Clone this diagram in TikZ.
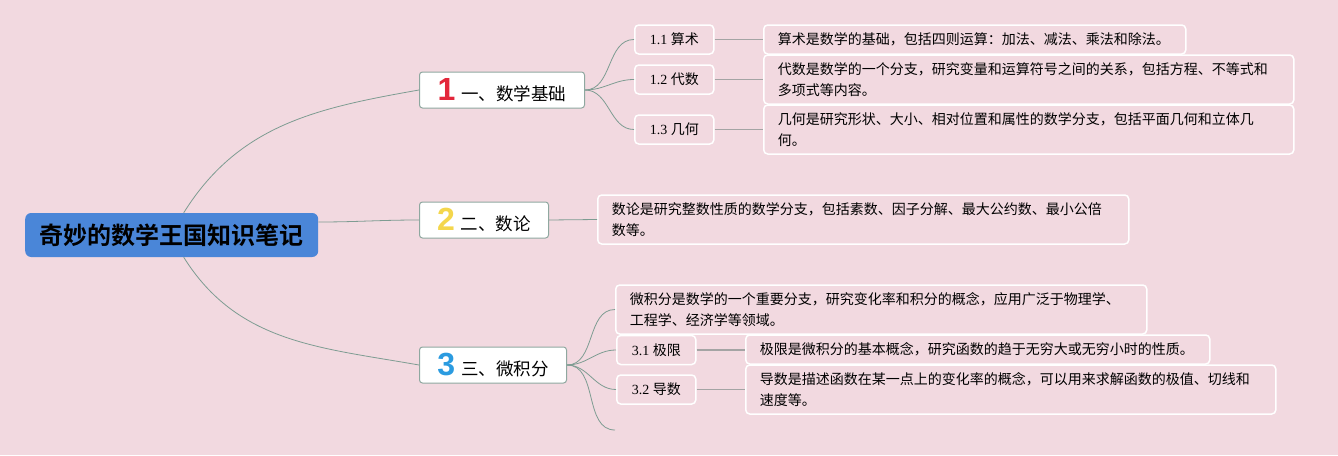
\documentclass[tikz,border=0pt]{standalone}
\usepackage{fontspec}
\setmainfont{Liberation Serif}
\newfontfamily\cjk{Noto Sans CJK SC}[BoldFont={Noto Sans CJK SC Bold}]
\newfontfamily\numfont{Liberation Sans}
\definecolor{bgpink}{HTML}{F2D9E0}
\definecolor{rootblue}{HTML}{4A86D8}
\definecolor{topicline}{HTML}{8FA8A0}
\definecolor{branchline}{HTML}{7E9C92}
\definecolor{leafline}{HTML}{A4A4A4}
\definecolor{numred}{HTML}{E3263A}
\definecolor{numyellow}{HTML}{F4D64C}
\definecolor{numblue}{HTML}{2B9BE0}
\tikzset{
	rootbox/.style={fill=rootblue, rounded corners=6pt, anchor=west, inner sep=0pt,
		minimum width=293pt, minimum height=44pt, font=\cjk\bfseries\fontsize{24}{26}\selectfont},
	topicbox/.style={fill=white, draw=topicline, line width=1pt, rounded corners=3pt, anchor=west,
		minimum height=36pt, inner sep=0pt, font=\cjk\fontsize{17.5}{20}\selectfont},
	subbox/.style={fill=bgpink, draw=white, line width=1.5pt, rounded corners=4pt, anchor=west,
		minimum width=79pt, minimum height=29pt, inner sep=0pt, font=\fontsize{14}{16}\selectfont},
	notebox/.style={fill=bgpink, draw=white, line width=1.5pt, rounded corners=4pt, anchor=west,
		align=left, inner xsep=14pt, minimum height=29pt, font=\cjk\fontsize{14}{21}\selectfont},
	branch/.style={draw=branchline, line width=0.8pt},
	leaf/.style={draw=leafline, line width=1.2pt}
}
\newcommand{\bignum}[2]{{\numfont\bfseries\fontsize{32}{32}\selectfont\color{#1}#2}\hspace{6pt}}
\begin{document}
\begin{tikzpicture}[x=1pt, y=-1pt]
	\fill[bgpink] (0,0) rectangle (1338,455);
	\useasboundingbox (0,0) rectangle (1338,455);

	\node[rootbox] (root) at (25,235) {奇妙的数学王国知识笔记};

	\node[topicbox, minimum width=165pt] (num1) at (419,90) {\bignum{numred}{1}一、数学基础};
	\node[topicbox, minimum width=129pt] (num2) at (419,220) {\bignum{numyellow}{2}二、数论};
	\node[topicbox, minimum width=147pt] (num3) at (419,365) {\bignum{numblue}{3}三、微积分};

	% first branch
	\node[subbox] (arith) at (634,39.5) {1.1 {\cjk 算术}};
	\node[subbox] (alg) at (634,79.5) {1.2 {\cjk 代数}};
	\node[subbox] (geo) at (634,129.5) {1.3 {\cjk 几何}};
	\node[notebox, text width=394pt] (arithnote) at (763,39.5) {算术是数学的基础，包括四则运算：加法、减法、乘法和除法。};
	\node[notebox, text width=502pt, minimum height=49pt] (algnote) at (763,79.5) {代数是数学的一个分支，研究变量和运算符号之间的关系，包括方程、不等式和\\多项式等内容。};
	\node[notebox, text width=502pt, minimum height=49pt] (geonote) at (763,129.5) {几何是研究形状、大小、相对位置和属性的数学分支，包括平面几何和立体几\\何。};

	% second branch
	\node[notebox, text width=503pt, minimum height=49pt] (ntnote) at (597,219.5) {数论是研究整数性质的数学分支，包括素数、因子分解、最大公约数、最小公倍\\数等。};

	% third branch
	\node[notebox, text width=503pt, minimum height=49pt] (calcnote) at (615,309.5) {微积分是数学的一个重要分支，研究变化率和积分的概念，应用广泛于物理学、\\工程学、经济学等领域。};
	\node[subbox] (lim) at (616,350) {3.1 {\cjk 极限}};
	\node[subbox] (deriv) at (616,389.5) {3.2 {\cjk 导数}};
	\node[notebox, text width=436pt] (limnote) at (745,349.5) {极限是微积分的基本概念，研究函数的趋于无穷大或无穷小时的性质。};
	\node[notebox, text width=502pt, minimum height=49pt] (derivnote) at (745,389.5) {导数是描述函数在某一点上的变化率的概念，可以用来求解函数的极值、切线和\\速度等。};
	\coordinate (loose) at (615,430);

	\draw[branch] ([xshift=12pt]root.north) to[out=58, in=190] (num1.west);
	\draw[branch] ([yshift=13pt]root.east) to[out=0, in=180] (num2.west);
	\draw[branch] ([xshift=12pt]root.south) to[out=-58, in=170] (num3.west);

	\foreach \t in {arith, alg, geo}
		\draw[branch] (num1.east) to[out=0, in=180] (\t.west);
	\draw[leaf] (arith) -- (arithnote);
	\draw[leaf] (alg.east) -- (alg.east -| algnote.west);
	\draw[leaf] (geo.east) -- (geo.east -| geonote.west);

	\draw[branch] (num2.east) -- (ntnote.west);

	\foreach \t in {calcnote.west, lim.west, deriv.west, loose}
		\draw[branch] (num3.east) to[out=0, in=180] (\t);
	\draw[leaf] (lim.east) -- (lim.east -| limnote.west);
	\draw[leaf] (deriv.east) -- (deriv.east -| derivnote.west);
\end{tikzpicture}
\end{document}
